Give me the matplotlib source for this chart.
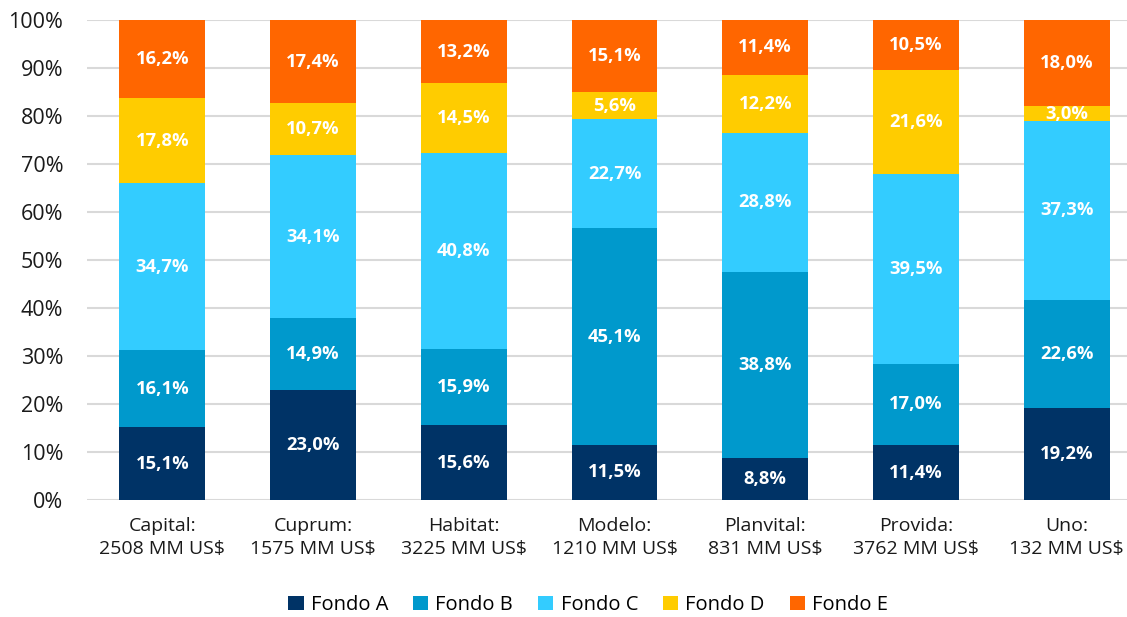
import numpy as np
import matplotlib.pyplot as plt
from matplotlib.ticker import PercentFormatter

plt.rcParams['font.family'] = ['Open Sans', 'DejaVu Sans']

afps = ['Capital:\n2508 MM US$', 'Cuprum:\n1575 MM US$', 'Habitat:\n3225 MM US$',
        'Modelo:\n1210 MM US$', 'Planvital:\n831 MM US$', 'Provida:\n3762 MM US$',
        'Uno:\n132 MM US$']
fondo_a = [15.1, 23.0, 15.6, 11.5, 8.8, 11.4, 19.2]
fondo_b = [16.1, 14.9, 15.9, 45.1, 38.8, 17.0, 22.6]
fondo_c = [34.7, 34.1, 40.8, 22.7, 28.8, 39.5, 37.3]
fondo_d = [17.8, 10.7, 14.5, 5.6, 12.2, 21.6, 3.0]
fondo_e = [16.2, 17.4, 13.2, 15.1, 11.4, 10.5, 18.0]

series = [('Fondo A', fondo_a, '#003366'),
          ('Fondo B', fondo_b, '#0099CC'),
          ('Fondo C', fondo_c, '#33CCFF'),
          ('Fondo D', fondo_d, '#FFCC00'),
          ('Fondo E', fondo_e, '#FF6600')]

vals = np.array([s[1] for s in series])
share = vals / vals.sum(axis=0) * 100  # 100% stacked, like the spreadsheet

fig = plt.figure(figsize=(11.27, 6.17), dpi=100)
ax = fig.add_axes([0.0772, 0.1896, 0.9228, 0.778])

x = np.arange(len(afps))
bottom = np.zeros(len(afps))
for (name, v, color), h in zip(series, share):
    ax.bar(x, h, 0.57, bottom=bottom, color=color, label=name, zorder=2)
    for xi, b, hi, lab in zip(x, bottom, h, v):
        ax.text(xi, b + hi / 2, f'{lab:.1f}%'.replace('.', ','), ha='center', va='center',
                color='white', fontsize=13.2, fontweight='bold', zorder=3)
    bottom += h

ax.set_xlim(-0.5, 6.4)
ax.set_ylim(0, 100)
ax.set_yticks(np.arange(0, 101, 10))
ax.yaxis.set_major_formatter(PercentFormatter(decimals=0))
ax.set_xticks(x)
ax.set_xticklabels(afps, linespacing=1.35)
ax.tick_params(length=0, colors='#1a1a1a')
ax.tick_params(axis='x', pad=12, labelsize=14)
ax.tick_params(axis='y', pad=17, labelsize=15.5)
ax.grid(axis='y', color='#D9D9D9', linewidth=1.5, zorder=0)
for s in ax.spines.values():
    s.set_visible(False)

ax.legend(loc='center', bbox_to_anchor=(0.482, -0.219), ncol=5, frameon=False,
          fontsize=14.5, handlelength=0.75, handleheight=0.75, handletextpad=0.35,
          columnspacing=1.25)

fig.savefig('out.png', dpi=100)
